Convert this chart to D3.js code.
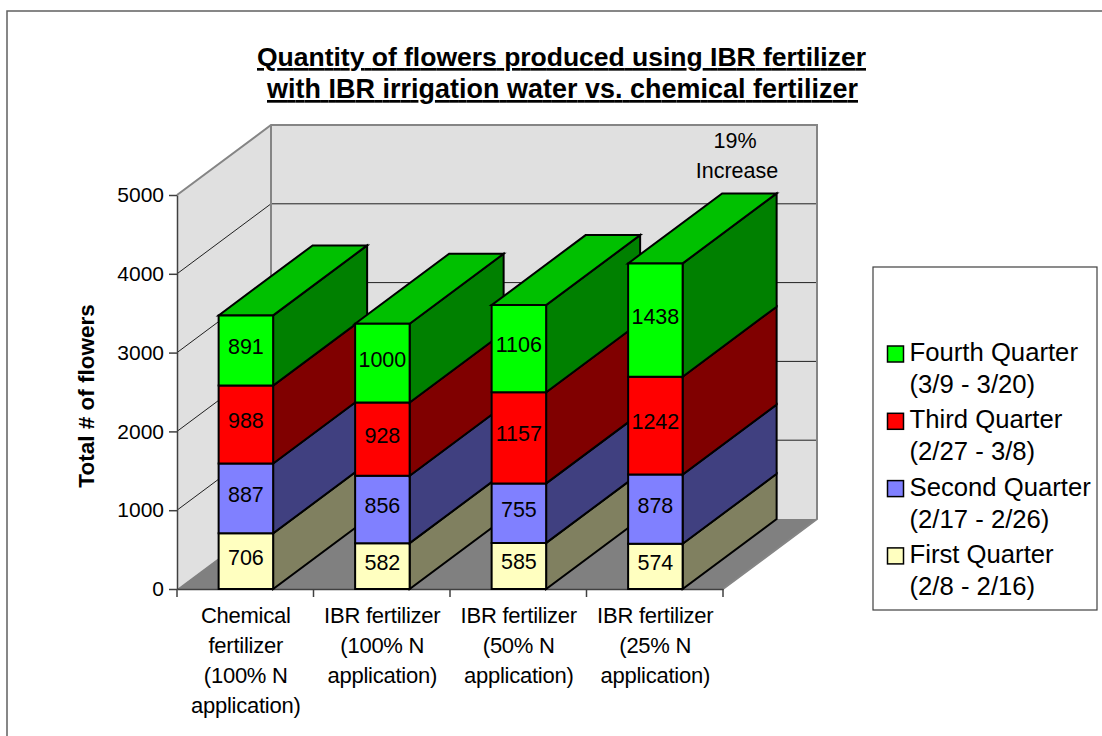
<!DOCTYPE html>
<html>
<head>
<meta charset="utf-8">
<script src="https://cdn.jsdelivr.net/npm/d3@7"></script>
<style>
  body { margin: 0; background: #fff; }
  text { font-family: "Liberation Sans", Arial, sans-serif; fill: #000; }
</style>
</head>
<body>
<div id="chart"></div>
<script>
var titleLines = ["Quantity of flowers produced using IBR fertilizer", "with IBR irrigation water vs. chemical fertilizer"];
var categories = [
  ["Chemical", "fertilizer", "(100% N", "application)"],
  ["IBR fertilizer", "(100% N", "application)"],
  ["IBR fertilizer", "(50% N", "application)"],
  ["IBR fertilizer", "(25% N", "application)"]
];
var seriesNames = ["First Quarter", "Second Quarter", "Third Quarter", "Fourth Quarter"];
var seriesDates = ["(2/8 - 2/16)", "(2/17 - 2/26)", "(2/27 - 3/8)", "(3/9 - 3/20)"];
var firstQuarter = [706, 582, 585, 574];
var secondQuarter = [887, 856, 755, 878];
var thirdQuarter = [988, 928, 1157, 1242];
var fourthQuarter = [891, 1000, 1106, 1438];
var yTicks = [0, 1000, 2000, 3000, 4000, 5000];

var frontColors = ["#ffffc0", "#8080ff", "#ff0000", "#00ff00"];
var sideColors = ["#808060", "#404080", "#800000", "#008000"];
var topColors = ["#c0c090", "#6060c0", "#c00000", "#00c000"];

var width = 1102, height = 736;
var depth = {x: 94, y: -70};

var svg = d3.select("#chart").append("svg")
  .attr("width", width)
  .attr("height", height)
  .style("display", "block");

// chart frame runs off the right and bottom of the picture
svg.append("rect")
  .attr("x", 7).attr("y", 11)
  .attr("width", 1200).attr("height", 800)
  .attr("fill", "#fff").attr("stroke", "#606060").attr("stroke-width", 1.5);

var y = d3.scaleLinear().domain([0, 5000]).range([589, 195]);
var x = d3.scaleBand().domain(d3.range(categories.length)).range([177, 723]);
var barW = 54.5;

function shift(p) { return [p[0] + depth.x, p[1] + depth.y]; }
function ptStr(pts) { return pts.map(function(p) { return p.join(","); }).join(" "); }
function poly(sel, pts, fill, stroke, sw) {
  return sel.append("polygon")
    .attr("points", ptStr(pts))
    .attr("fill", fill)
    .attr("stroke", stroke)
    .attr("stroke-width", sw);
}

// walls + floor
var x0 = x.range()[0], x1 = x.range()[1];
var walls = svg.append("g");
poly(walls, [[x0, y(0)], [x0, y(5000)], shift([x0, y(5000)]), shift([x0, y(0)])], "#e0e0e0", "none", 0);
poly(walls, [shift([x0, y(0)]), shift([x0, y(5000)]), shift([x1, y(5000)]), shift([x1, y(0)])], "#e0e0e0", "none", 0);
poly(walls, [[x0, y(0)], [x1, y(0)], shift([x1, y(0)]), shift([x0, y(0)])], "#808080", "none", 0);

// gridlines run along the side wall then the back wall
yTicks.slice(1, -1).forEach(function(t) {
  walls.append("polyline")
    .attr("points", ptStr([[x0, y(t)], shift([x0, y(t)]), shift([x1, y(t)])]))
    .attr("fill", "none").attr("stroke", "#202020").attr("stroke-width", 1);
});
walls.append("polyline")
  .attr("points", ptStr([[x0, y(5000)], shift([x0, y(5000)]), shift([x1, y(5000)]), shift([x1, y(0)]), [x1, y(0)]]))
  .attr("fill", "none").attr("stroke", "#858585").attr("stroke-width", 2);
walls.append("line")
  .attr("x1", x0 + depth.x).attr("x2", x0 + depth.x)
  .attr("y1", y(5000) + depth.y).attr("y2", y(0) + depth.y)
  .attr("stroke", "#858585").attr("stroke-width", 2);

// axes
var yAxis = svg.append("g")
  .attr("transform", "translate(" + x0 + ",0)")
  .call(d3.axisLeft(y).tickValues(yTicks).tickFormat(d3.format("d")).tickSize(8).tickSizeOuter(0).tickPadding(5));
var xAxis = svg.append("g")
  .attr("transform", "translate(0," + y(0) + ")")
  .call(d3.axisBottom(x).tickSize(0).tickFormat(""));
xAxis.selectAll("line.cat").data(d3.range(categories.length + 1)).enter().append("line")
  .attr("class", "cat")
  .attr("x1", function(d) { return x0 + d * x.step(); })
  .attr("x2", function(d) { return x0 + d * x.step(); })
  .attr("y1", 0).attr("y2", 8);
[yAxis, xAxis].forEach(function(a) {
  a.selectAll("path, line").attr("stroke", "#404040").attr("stroke-width", 1.5);
});
yAxis.selectAll("text").style("font-size", "21px").style("font-family", "Liberation Sans");

// bars
var seriesValues = [firstQuarter, secondQuarter, thirdQuarter, fourthQuarter];
categories.forEach(function(c, i) {
  var g = svg.append("g");
  var bx0 = x(i) + x.bandwidth() * 0.305;
  var bx1 = bx0 + barW;
  var base = 0;
  seriesValues.forEach(function(vals, s) {
    var yb = y(base), yt = y(base + vals[i]);
    poly(g, [[bx1, yb], [bx1, yt], shift([bx1, yt]), shift([bx1, yb])], sideColors[s], "#000", 2);
    if (s === seriesValues.length - 1) {
      poly(g, [[bx0, yt], [bx1, yt], shift([bx1, yt]), shift([bx0, yt])], topColors[s], "#000", 2);
    }
    poly(g, [[bx0, yb], [bx1, yb], [bx1, yt], [bx0, yt]], frontColors[s], "#000", 2);
    g.append("text")
      .attr("x", (bx0 + bx1) / 2)
      .attr("y", (yb + yt) / 2 - 3.5)
      .attr("text-anchor", "middle")
      .attr("dominant-baseline", "central")
      .style("font-size", "21.5px")
      .text(vals[i]);
    base += vals[i];
  });

  // category label
  c.forEach(function(line, k) {
    svg.append("text")
      .attr("x", x(i) + x.bandwidth() / 2 + 0.5)
      .attr("y", 623 + k * 30)
      .attr("text-anchor", "middle")
      .style("font-size", "22px")
      .attr("letter-spacing", "-0.25")
      .text(line);
  });
});

// title, the two lines are set to slightly different widths in the original
[{len: 609, size: 26.5}, {len: 591, size: 26.9}].forEach(function(o, k) {
  svg.append("text")
    .attr("x", 561.5 + k)
    .attr("y", 66 + k * 32)
    .attr("text-anchor", "middle")
    .attr("textLength", o.len)
    .style("font-size", o.size + "px")
    .style("font-weight", "bold")
    .style("text-decoration", "underline")
    .text(titleLines[k]);
});

// annotation
["19%", "Increase"].forEach(function(t, k) {
  svg.append("text")
    .attr("x", k ? 737 : 735)
    .attr("y", 148 + k * 30)
    .attr("text-anchor", "middle")
    .style("font-size", "21.5px")
    .text(t);
});

// y title
svg.append("text")
  .attr("transform", "translate(94,396) rotate(-90)")
  .attr("text-anchor", "middle")
  .style("font-size", "22.5px")
  .style("font-weight", "bold")
  .text("Total # of flowers");

// legend, top entry is the last series
var legend = svg.append("g");
legend.append("rect")
  .attr("x", 873).attr("y", 267)
  .attr("width", 224).attr("height", 343)
  .attr("fill", "#fff").attr("stroke", "#404040").attr("stroke-width", 1.2);
d3.range(3, -1, -1).forEach(function(s, k) {
  var cy = 353 + k * 67.3;
  legend.append("rect")
    .attr("x", 887.5).attr("y", cy - 7)
    .attr("width", 16).attr("height", 16)
    .attr("fill", frontColors[s]).attr("stroke", "#000").attr("stroke-width", 1.5);
  legend.append("text")
    .attr("x", 909.5).attr("y", cy + 8)
    .style("font-size", "25.7px")
    .text(seriesNames[s]);
  legend.append("text")
    .attr("x", 909.5).attr("y", cy + 40)
    .style("font-size", "25.7px")
    .text(seriesDates[s]);
});
</script>
</body>
</html>
